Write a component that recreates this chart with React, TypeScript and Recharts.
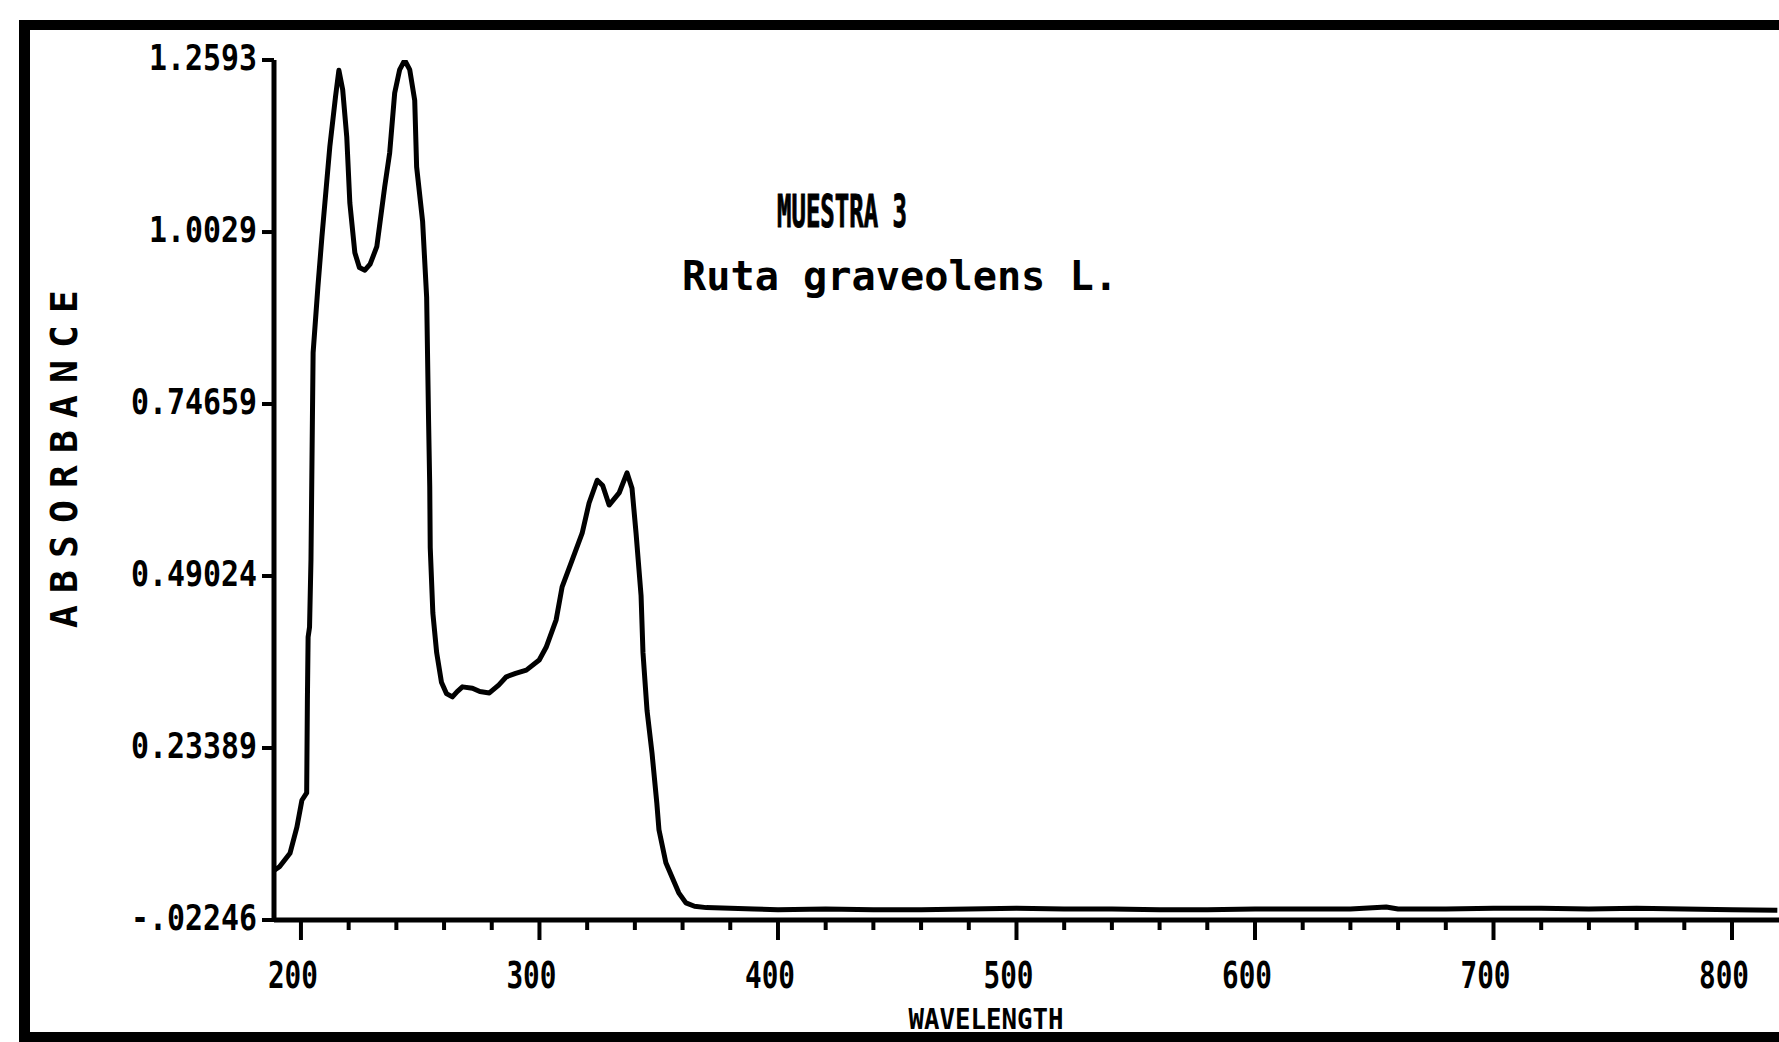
import React from 'react';
import { LineChart, Line, XAxis, YAxis } from 'recharts';

// Spectrum (wavelength in nm, absorbance)
const wavelengths = [
  189, 191, 195.4, 198.3, 200.4, 202.4, 202.7, 203.0, 203.6, 204.2,
  204.8, 205.1, 207.1, 208.8, 212.1, 214.5, 215.9, 217.5, 219.2, 220.5,
  222.6, 224.5, 226.8, 229.0, 231.8, 235.1, 237.2, 239.3, 241.4, 243.5,
  245.6, 247.7, 248.5, 251.0, 252.7, 253.5, 254.0, 254.2, 255.3, 256.9,
  258.9, 261.0, 263.5, 265.5, 267.7, 271.9, 275.0, 279.0, 283.0, 286.1,
  290.0, 294.5, 299.9, 302.8, 307.0, 309.5, 313.7, 317.9, 320.8, 324.2,
  326.5, 329.2, 333.4, 336.7, 338.8, 340.5, 342.6, 343.4, 345.1, 347.2,
  349.2, 350.1, 353.0, 358.4, 361.4, 365, 370, 380, 390, 400,
  420, 440, 460, 480, 500, 520, 540, 560, 580, 600,
  620, 640, 655, 660, 680, 700, 720, 740, 760, 780,
  800, 819,
];
const absorbance = [
  0.052, 0.057, 0.077, 0.116, 0.156, 0.167, 0.305, 0.399, 0.414, 0.514,
  0.723, 0.823, 0.921, 0.996, 1.130, 1.205, 1.244, 1.215, 1.145, 1.046,
  0.972, 0.950, 0.946, 0.955, 0.981, 1.070, 1.121, 1.210, 1.245, 1.259,
  1.245, 1.199, 1.100, 1.019, 0.906, 0.723, 0.623, 0.533, 0.435, 0.376,
  0.332, 0.315, 0.310, 0.318, 0.325, 0.323, 0.318, 0.316, 0.328, 0.340,
  0.345, 0.350, 0.365, 0.384, 0.425, 0.474, 0.514, 0.554, 0.599, 0.633,
  0.625, 0.596, 0.614, 0.644, 0.621, 0.554, 0.461, 0.376, 0.290, 0.226,
  0.152, 0.112, 0.063, 0.018, 0.003, -0.002, -0.004, -0.005, -0.006, -0.007,
  -0.006, -0.007, -0.007, -0.006, -0.005, -0.006, -0.006, -0.007, -0.007, -0.006,
  -0.006, -0.006, -0.003, -0.006, -0.006, -0.005, -0.005, -0.006, -0.005, -0.006,
  -0.007, -0.008,
];

const yTickValues = [-0.02246, 0.23389, 0.49024, 0.74659, 1.0029, 1.2593];
const yTickLabels = ['-.02246', '0.23389', '0.49024', '0.74659', '1.0029', '1.2593'];
const xTickValues = [
  200, 220, 240, 260, 280, 300, 320, 340, 360, 380, 400, 420, 440, 460, 480,
  500, 520, 540, 560, 580, 600, 620, 640, 660, 680, 700, 720, 740, 760, 780, 800,
];
const xMajorValues = [200, 300, 400, 500, 600, 700, 800];
const xMajorLabels = ['200', '300', '400', '500', '600', '700', '800'];
const titleText = 'MUESTRA 3';
const subtitleText = 'Ruta graveolens L.';
const xAxisTitle = 'WAVELENGTH';
const yAxisTitle = 'ABSORBANCE';

const data = wavelengths.map((w, i) => ({ w, a: absorbance[i] }));

const FONT = '"DejaVu Sans Mono", monospace';

const XTick = (props: any) => {
  const { x, y, payload } = props;
  const v = payload.value;
  const idx = xMajorValues.indexOf(v);
  const major = idx >= 0;
  return (
    <g>
      <line x1={x} x2={x} y1={y} y2={y + (major ? 20 : 10)} stroke="#000" strokeWidth={4} />
      {major && (
        <text
          x={x - 8}
          y={y + 68}
          textAnchor="middle"
          fontFamily={FONT}
          fontWeight="bold"
          fontSize={38}
          textLength={50}
          lengthAdjust="spacingAndGlyphs"
          fill="#000"
        >
          {xMajorLabels[idx]}
        </text>
      )}
    </g>
  );
};

const YTick = (props: any) => {
  const { x, y, payload } = props;
  const idx = yTickValues.findIndex((t) => Math.abs(t - payload.value) < 1e-6);
  const label = idx >= 0 ? yTickLabels[idx] : '';
  return (
    <g>
      <line x1={x - 12} x2={x} y1={y} y2={y} stroke="#000" strokeWidth={4} />
      <text
        x={x - 17}
        y={y + 10}
        textAnchor="end"
        fontFamily={FONT}
        fontWeight="bold"
        fontSize={36}
        textLength={label.length * 18}
        lengthAdjust="spacingAndGlyphs"
        fill="#000"
      >
        {label}
      </text>
    </g>
  );
};

export default function App() {
  return (
    <div style={{ position: 'absolute', left: 0, top: 0, width: 1779, height: 1042, background: '#fff', overflow: 'hidden' }}>
      <LineChart
        width={1779}
        height={1042}
        data={data}
        margin={{ top: 60, right: 0, bottom: 0, left: 0 }}
      >
        <XAxis
          type="number"
          dataKey="w"
          domain={[188.7, 819.7]}
          allowDataOverflow
          ticks={xTickValues}
          interval={0}
          height={122}
          tickSize={0}
          tickMargin={0}
          tickLine={false}
          axisLine={{ stroke: '#000', strokeWidth: 5 }}
          tick={<XTick />}
        />
        <YAxis
          type="number"
          domain={[-0.02246, 1.2593]}
          allowDataOverflow
          ticks={yTickValues}
          interval={0}
          width={274}
          tickSize={0}
          tickMargin={0}
          tickLine={false}
          axisLine={{ stroke: '#000', strokeWidth: 5 }}
          tick={<YTick />}
        />
        <Line
          type="linear"
          dataKey="a"
          stroke="#000"
          strokeWidth={5}
          strokeLinejoin="round"
          dot={false}
          activeDot={false}
          isAnimationActive={false}
        />
      </LineChart>
      <svg
        width={1779}
        height={1042}
        style={{ position: 'absolute', left: 0, top: 0, pointerEvents: 'none' }}
      >
        <text x={842} y={227} textAnchor="middle" fontFamily={FONT} fontWeight="bold" fontSize={44} textLength={130} lengthAdjust="spacingAndGlyphs" fill="#000" stroke="#000" strokeWidth={1}>
          {titleText}
        </text>
        <text x={900} y={290} textAnchor="middle" fontFamily={FONT} fontWeight="bold" fontSize={40} textLength={436} lengthAdjust="spacingAndGlyphs" fill="#000">
          {subtitleText}
        </text>
        <text x={986} y={1029} textAnchor="middle" fontFamily={FONT} fontWeight="bold" fontSize={28} textLength={155} lengthAdjust="spacingAndGlyphs" fill="#000">
          {xAxisTitle}
        </text>
        <text
          x={64}
          y={459}
          transform="rotate(-90 64 459)"
          textAnchor="middle"
          dominantBaseline="central"
          fontFamily={FONT}
          fontWeight="bold"
          fontSize={38}
          textLength={338}
          lengthAdjust="spacing"
          fill="#000"
        >
          {yAxisTitle}
        </text>
        <rect x={19} y={20} width={11} height={1022} fill="#000" />
        <rect x={19} y={20} width={1760} height={10} fill="#000" />
        <rect x={19} y={1032} width={1760} height={10} fill="#000" />
      </svg>
    </div>
  );
}
